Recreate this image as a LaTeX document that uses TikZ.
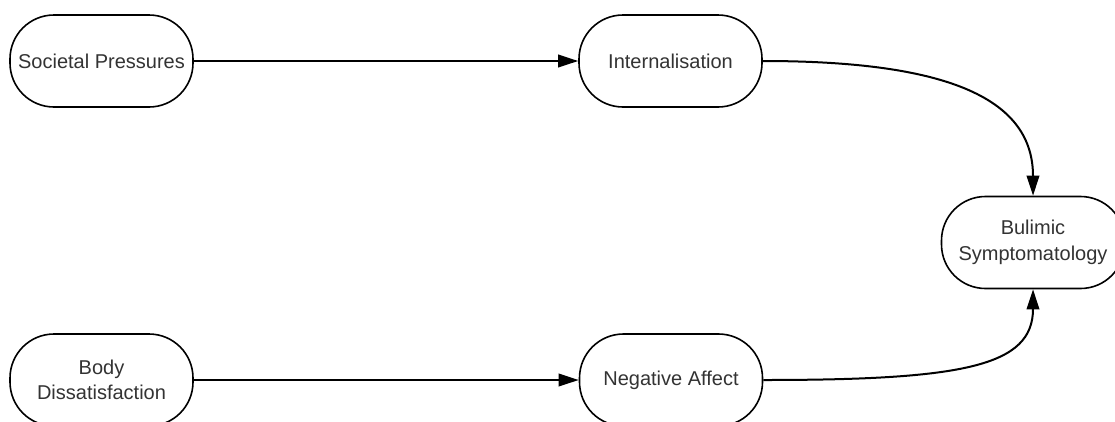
\documentclass[tikz,border=0pt]{standalone}
\usepackage{fontspec}
\setmainfont{Liberation Sans}
\usetikzlibrary{arrows.meta}
\definecolor{txt}{HTML}{333333}
\tikzset{
  stadium/.style={draw=black, line width=1.6pt, rounded corners=44pt,
    minimum width=183pt, minimum height=92pt, inner sep=0pt, align=center,
    text=txt, font=\fontsize{20}{25.5}\selectfont, fill=white},
  link/.style={line width=2pt, -{Triangle[length=20pt, width=12.5pt]}}
}
\begin{document}
\begin{tikzpicture}[x=1pt, y=-1pt]
  \useasboundingbox (0,0) rectangle (1115,421);
  \clip (0,0) rectangle (1115,421);
  \fill[white] (0,0) rectangle (1115,421);

  % upper chain
  \node[stadium] (soc) at (101.5,61) {Societal Pressures};
  \node[stadium] (int) at (670.5,61) {Internalisation};
  % outcome
  \node[stadium] (bul) at (1033,242.5) {Bulimic\\Symptomatology};
  % lower chain
  \node[stadium] (body) at (101.5,380) {Body\\Dissatisfaction};
  \node[stadium] (neg) at (671,380) {Negative Affect};

  \draw[link] (soc) -- (int);
  \draw[link] (body) -- (neg);
  \draw[link] (int.east) .. controls +(190,0) and +(0,-95) .. (bul.north);
  \draw[link] (neg.east) .. controls +(200,0) and +(0,77) .. (bul.south);
\end{tikzpicture}
\end{document}
